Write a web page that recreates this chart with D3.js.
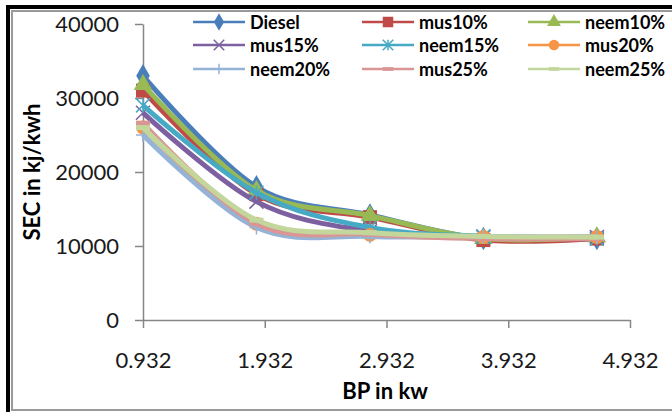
<!DOCTYPE html>
<html>
<head>
<meta charset="utf-8">
<script src="https://cdnjs.cloudflare.com/ajax/libs/d3/7.8.5/d3.min.js"></script>
<style>
  body { margin: 0; background: #fff; }
  svg { display: block; font-family: Lato, "Open Sans", sans-serif; }
</style>
</head>
<body>
<script>
//=====================================================================//
//  DATA
//=====================================================================//

    // BP in kw (x) and the nine fuel series (SEC in kj/kwh)
    var bp = [0.932, 1.864, 2.796, 3.728, 4.66];
    var seriesNames = ["Diesel", "mus10%", "neem10%", "mus15%", "neem15%", "mus20%", "neem20%", "mus25%", "neem25%"];
    var diesel = [33000, 18000, 14200, 11000, 11000];
    var mus10  = [31000, 17000, 13900, 10800, 11000];
    var neem10 = [31800, 17500, 14100, 11000, 11200];
    var mus15  = [28000, 16000, 12000, 11200, 11200];
    var neem15 = [29000, 17200, 12500, 11300, 11000];
    var mus20  = [26000, 13000, 11500, 11200, 11200];
    var neem20 = [25000, 12500, 11300, 11300, 11200];
    var mus25  = [26600, 13000, 11600, 11000, 11000];
    var neem25 = [26000, 13500, 11800, 11300, 11200];
    var xTicks = [0.932, 1.932, 2.932, 3.932, 4.932];
    var yTicks = [0, 10000, 20000, 30000, 40000];

    var colors  = ["#4a7ebb", "#be4b48", "#98b954", "#7d60a0", "#46aac5", "#f69546", "#95b3d7", "#d99694", "#c3d69b"];
    var markers = ["diamond", "square", "triangle", "cross", "star", "circle", "plus", "dash", "dash"];

    var allValues = [diesel, mus10, neem10, mus15, neem15, mus20, neem20, mus25, neem25];
    var series = seriesNames.map(function(name, i) {
        return { name: name, color: colors[i], marker: markers[i],
                 points: bp.map(function(x, j) { return { x: x, y: allValues[i][j] }; }) };
    });

//=====================================================================//
//  SVG + FRAME
//=====================================================================//

    var W = 672, H = 412;
    var svg = d3.select("body").append("svg")
        .attr("width", W)
        .attr("height", H);

    // outer black frame and grey chart border (cropped at right/bottom)
    svg.append("rect")
        .attr("x", 8).attr("y", 7).attr("width", 700).attr("height", 500)
        .attr("fill", "none").attr("stroke", "#000").attr("stroke-width", 4);
    svg.append("rect")
        .attr("x", 12).attr("y", 11).attr("width", 700).attr("height", 399)
        .attr("fill", "none").attr("stroke", "#9a9a9a").attr("stroke-width", 2);

    // scales
    var x = d3.scaleLinear().domain([0.932, 4.932]).range([143, 630]);
    var y = d3.scaleLinear().domain([0, 40000]).range([320, 24]);

//=====================================================================//
//  AXES
//=====================================================================//

    var yAxis = svg.append("g")
        .attr("transform", "translate(143,0)")
        .call(d3.axisLeft(y).tickValues(yTicks).tickFormat(d3.format("d"))
              .tickSize(8).tickSizeOuter(0).tickPadding(16));
    var xAxis = svg.append("g")
        .attr("transform", "translate(0,320)")
        .call(d3.axisBottom(x).tickValues(xTicks).tickFormat(d3.format(".3f"))
              .tickSize(8).tickSizeOuter(0).tickPadding(24));

    [yAxis, xAxis].forEach(function(g) {
        g.select(".domain").attr("stroke", "#868686").attr("stroke-width", 1.5);
        g.selectAll(".tick line").attr("stroke", "#868686").attr("stroke-width", 1.5);
        g.selectAll(".tick text")
            .attr("fill", "#1a1a1a")
            .style("font-size", "22px")
            .style("font-family", "Lato, sans-serif");
    });

    // axis titles
    svg.append("text")
        .attr("transform", "translate(40,172) rotate(-90)")
        .attr("text-anchor", "middle")
        .style("font-size", "22px").style("font-weight", "bold")
        .text("SEC in kj/kwh");
    svg.append("text")
        .attr("x", 385).attr("y", 399)
        .attr("text-anchor", "middle")
        .style("font-size", "22px").style("font-weight", "bold")
        .text("BP in kw");

//=====================================================================//
//  LINES + MARKERS
//=====================================================================//

    var line = d3.line()
        .x(function(d) { return x(d.x); })
        .y(function(d) { return y(d.y); })
        .curve(d3.curveCatmullRom.alpha(0));

    series.forEach(function(s) {
        var g = svg.append("g");
        g.append("path")
            .datum(s.points)
            .attr("d", line)
            .attr("fill", "none")
            .attr("stroke", s.color)
            .attr("stroke-width", 5)
            .attr("stroke-linejoin", "round");
        g.selectAll("g.mk")
            .data(s.points)
            .join("g")
            .attr("class", "mk")
            .attr("transform", function(d) { return "translate(" + x(d.x) + "," + y(d.y) + ")"; })
            .each(function() { drawMarker(d3.select(this), s.marker, s.color, 1); });
    });

//=====================================================================//
//  LEGEND
//=====================================================================//

    var legCols = [193, 362, 528], legRows = [22, 45, 69];
    series.forEach(function(s, i) {
        var lx = legCols[i % 3], ly = legRows[Math.floor(i / 3)];
        var g = svg.append("g");
        g.append("line")
            .attr("x1", lx).attr("x2", lx + 52)
            .attr("y1", ly).attr("y2", ly)
            .attr("stroke", s.color).attr("stroke-width", 2.5);
        drawMarker(g.append("g").attr("transform", "translate(" + (lx + 26) + "," + ly + ")"), s.marker, s.color, 0.75);
        g.append("text")
            .attr("x", lx + 57).attr("y", ly)
            .attr("dominant-baseline", "central")
            .style("font-size", "18px").style("font-weight", "bold")
            .text(s.name);
    });

//=====================================================================//
//  FUNCTIONS
//=====================================================================//

    // draws one marker centred on the group origin
    function drawMarker(g, type, color, k) {
        var r = 7 * k;
        if (type === "diamond") {
            g.append("path").attr("d", d3.symbol(d3.symbolDiamond, 160 * k * k)).attr("fill", color);
        } else if (type === "square") {
            g.append("rect").attr("x", -r).attr("y", -r).attr("width", 2 * r).attr("height", 2 * r).attr("fill", color);
        } else if (type === "triangle") {
            g.append("path").attr("d", d3.symbol(d3.symbolTriangle, 150 * k * k)).attr("fill", color);
        } else if (type === "circle") {
            g.append("circle").attr("r", r).attr("fill", color);
        } else if (type === "cross") {
            g.append("path").attr("d", "M" + -r + "," + -r + "L" + r + "," + r + "M" + -r + "," + r + "L" + r + "," + -r)
                .attr("stroke", color).attr("stroke-width", 1.5);
        } else if (type === "star") {
            g.append("path").attr("d", "M" + -r + "," + -r + "L" + r + "," + r + "M" + -r + "," + r + "L" + r + "," + -r + "M0," + -r + "L0," + r)
                .attr("stroke", color).attr("stroke-width", 1.5);
        } else if (type === "plus") {
            g.append("path").attr("d", "M" + -r + ",0L" + r + ",0M0," + -r + "L0," + r)
                .attr("stroke", color).attr("stroke-width", 1.5);
        } else if (type === "dash") {
            g.append("rect").attr("x", -r).attr("y", -2.5 * k).attr("width", 2 * r).attr("height", 5 * k).attr("fill", color);
        }
    }
</script>
</body>
</html>
